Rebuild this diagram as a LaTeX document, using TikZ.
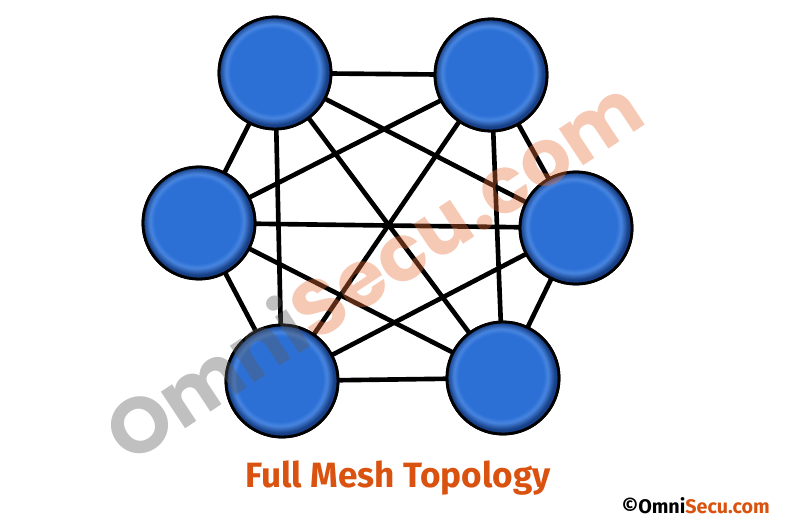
\documentclass[tikz,border=0pt]{standalone}
\usepackage{fontspec}
\setmainfont{Fira Sans}
\newfontfamily\markfont{Poppins}
\usetikzlibrary{positioning}
\definecolor{HostBlue}{HTML}{2C70D6}
\definecolor{HostRim}{HTML}{163F86}
\definecolor{HostLight}{HTML}{5A93E6}
\definecolor{Brand}{HTML}{D9520F}
\definecolor{MarkGrey}{HTML}{5A5A5A}
\definecolor{MarkOrange}{HTML}{E8703A}
\pgfdeclareradialshading{hostbevel}{\pgfpoint{-1.5bp}{1.5bp}}{%
  color(0bp)=(HostBlue); color(19bp)=(HostBlue); color(21bp)=(HostLight!60!HostBlue);
  color(24bp)=(HostRim); color(27bp)=(HostRim); color(50bp)=(HostRim)}
\tikzset{
  host/.style={circle,draw=black,line width=2pt,minimum size=2.8cm,shading=hostbevel},
  link/.style={draw=black,line width=3.3pt},
  caption/.style={font=\fontsize{25}{30}\selectfont\bfseries,text=Brand},
  logo/.style={font=\fontsize{14}{17}\selectfont\bfseries,inner sep=0pt},
  watermark/.style={font=\markfont\fontsize{56}{64}\selectfont\bfseries,text opacity=.38,rotate=33.5,inner sep=0pt}
}
\begin{document}
\begin{tikzpicture}[x=0.025cm,y=-0.025cm]
  \useasboundingbox (0,0) rectangle (787,525);
  % hosts
  \node[host] (tl) at (275,73) {};
  \node[host] (tr) at (491,75) {};
  \node[host] (lf) at (199,223) {};
  \node[host] (rt) at (576,228) {};
  \node[host] (bl) at (282,381) {};
  \node[host] (br) at (503,378) {};
  % every host linked to every other host
  \foreach \a/\b in {tl/tr,tl/lf,tl/rt,tl/bl,tl/br,tr/lf,tr/rt,tr/bl,tr/br,lf/rt,lf/bl,lf/br,rt/bl,rt/br,bl/br}
    \draw[link] (\a.center) -- (\b.center);
  \foreach \n in {tl,tr,lf,rt,bl,br}
    \node[host] at (\n.center) {};
  \node[caption] (title) at (398,478) {Full Mesh Topology};
  \node[logo,anchor=east] (site) at (770,506) {{\Large\textcopyright}Omni\textcolor{Brand}{Secu.com}};
  \node[watermark] (mark) at (372,268) {\textcolor{MarkGrey}{Omni}\textcolor{MarkOrange}{Secu.com}};
\end{tikzpicture}
\end{document}
